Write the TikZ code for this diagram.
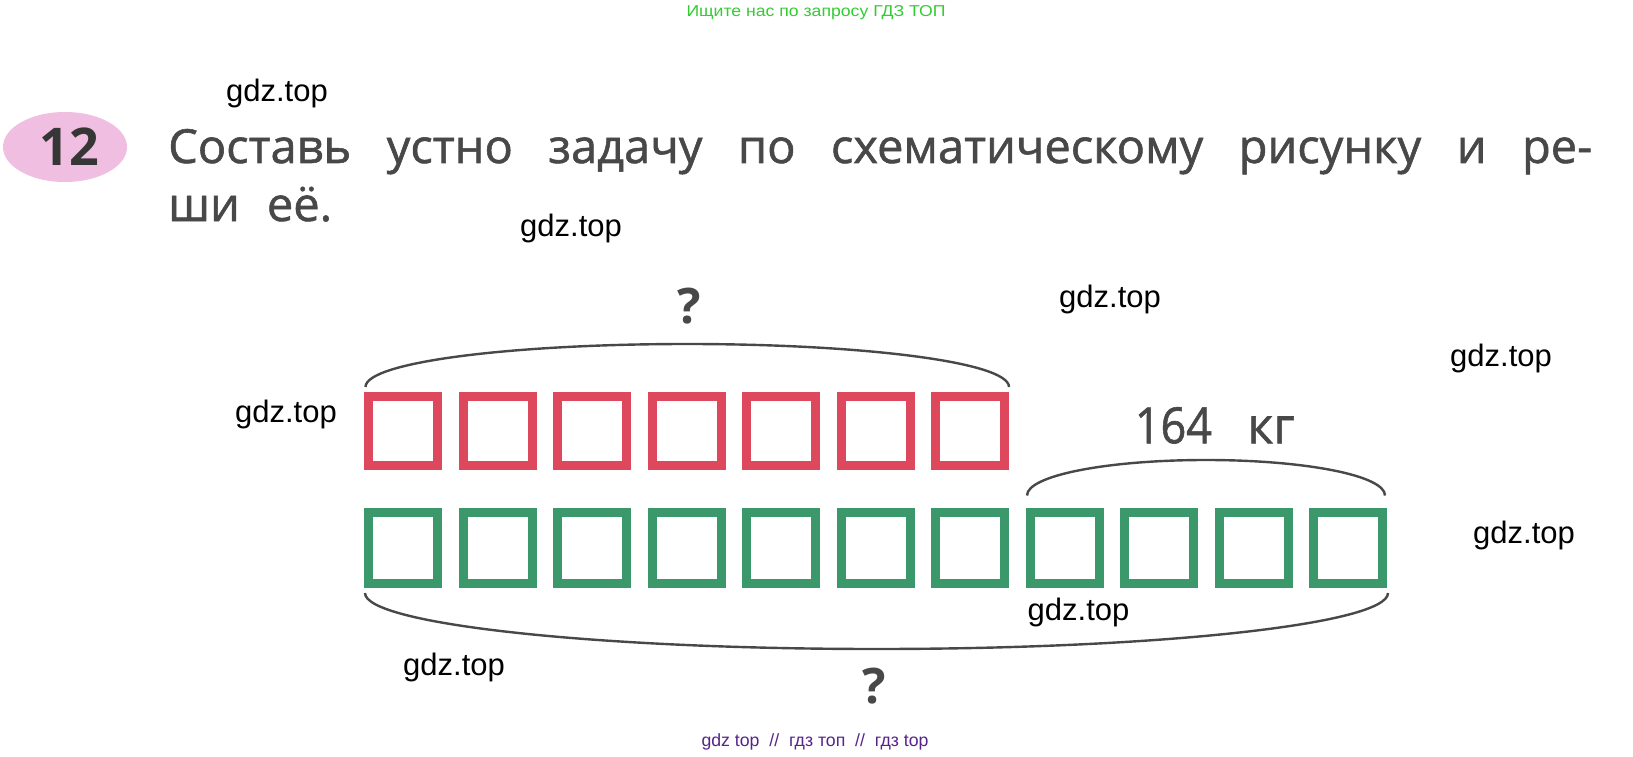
\documentclass[tikz,border=0pt]{standalone}
\usepackage{fontspec}
\usepackage{graphicx}
\setmainfont{Open Sans}
\newfontfamily\titlefont{Open Sans}[FakeBold=1.2]
\newfontfamily\wmfont{Liberation Sans}
\usetikzlibrary{shapes.geometric}
\definecolor{boxred}{RGB}{221,72,92}
\definecolor{boxgreen}{RGB}{58,152,106}
\definecolor{inkgrey}{RGB}{72,72,72}
\definecolor{pinkbg}{RGB}{240,190,224}
\definecolor{wmgreen}{RGB}{51,204,51}
\definecolor{wmpurple}{RGB}{88,36,138}
\begin{document}
\begin{tikzpicture}[x=1pt,y=-1pt,
  redbox/.style={draw=boxred,line width=9pt,minimum width=69pt,minimum height=69.5pt,inner sep=0pt},
  greenbox/.style={draw=boxgreen,line width=9pt,minimum width=69pt,minimum height=70.5pt,inner sep=0pt},
  brace/.style={draw=inkgrey,line width=2.4pt},
  wm/.style={font=\wmfont\fontsize{31}{31}\selectfont,text=black,inner sep=0pt},
  qmark/.style={font=\bfseries\fontsize{49}{49}\selectfont,text=inkgrey,inner sep=0pt,anchor=base},
  titletext/.style={font=\titlefont\fontsize{47}{47}\selectfont,text=inkgrey,inner sep=0pt,anchor=base west},
  bigtext/.style={font=\titlefont\fontsize{50}{50}\selectfont,text=inkgrey,inner sep=0pt,anchor=base},
]
\useasboundingbox[fill=white] (0,0) rectangle (1633,757);

% header / footer watermarks
\node[text=wmgreen,inner sep=0pt] (hdr) at (816,12.5) {\resizebox{259pt}{11pt}{\wmfont Ищите нас по запросу ГДЗ ТОП}};
\node[text=wmpurple,inner sep=0pt] (ftr) at (815,742) {\resizebox{227pt}{!}{\wmfont gdz top~~//~~гдз топ~~//~~гдз top}};

% task number
\node[ellipse,fill=pinkbg,minimum width=124pt,minimum height=70pt,inner sep=0pt] (badge) at (65,147) {};
\node[font=\bfseries\fontsize{52}{52}\selectfont,text=inkgrey!75!black,inner sep=0pt,anchor=base] (num) at (69,165) {12};

% task text
\node[titletext] (t1) at (168,163) {\makebox[1424pt][s]{Составь устно задачу по схематическому рисунку и ре-}};
\node[titletext] (t2) at (168,221) {\makebox[164pt][s]{ши её.}};

% boxes
\foreach \i in {1,...,7} \node[redbox] (r\i) at ({403+(\i-1)*94.5},431) {};
\foreach \i in {1,...,11} \node[greenbox] (g\i) at ({403+(\i-1)*94.5},548) {};

% braces
\coordinate (ta) at (365.5,387);
\coordinate (tb) at (1009,387);
\coordinate (tm) at (687.3,344);
\draw[brace] (ta) .. controls (365.5,362) and (512,344) .. (tm) .. controls (862,344) and (1009,362) .. (tb);

\coordinate (ra) at (1027,495.5);
\coordinate (rb) at (1385,495.5);
\coordinate (rm) at (1206,460);
\draw[brace] (ra) .. controls (1027,475.5) and (1107,460) .. (rm) .. controls (1305,460) and (1385,475.5) .. (rb);

\coordinate (ba) at (365,593);
\coordinate (bb) at (1388,593);
\coordinate (bm) at (876.5,649);
\draw[brace] (ba) .. controls (365,624) and (594,649) .. (bm) .. controls (1159,649) and (1388,624) .. (bb);

% labels
\node[qmark] (q1) at (689,323) {?};
\node[qmark] (q2) at (874,703) {?};
\node[bigtext] (n164) at (1173.4,443.3) {\scalebox{0.9}[1]{164}};
\node[bigtext] (kg) at (1271,443.3) {кг};

% gdz.top watermarks
\node[wm] (w1) at (277,93) {gdz.top};
\node[wm] (w2) at (571,228) {gdz.top};
\node[wm] (w3) at (1110,299) {gdz.top};
\node[wm] (w4) at (1501,358) {gdz.top};
\node[wm] (w5) at (286,414.5) {gdz.top};
\node[wm] (w6) at (1524,535) {gdz.top};
\node[wm] (w7) at (1078.5,612) {gdz.top};
\node[wm] (w8) at (454,667) {gdz.top};
\end{tikzpicture}
\end{document}
